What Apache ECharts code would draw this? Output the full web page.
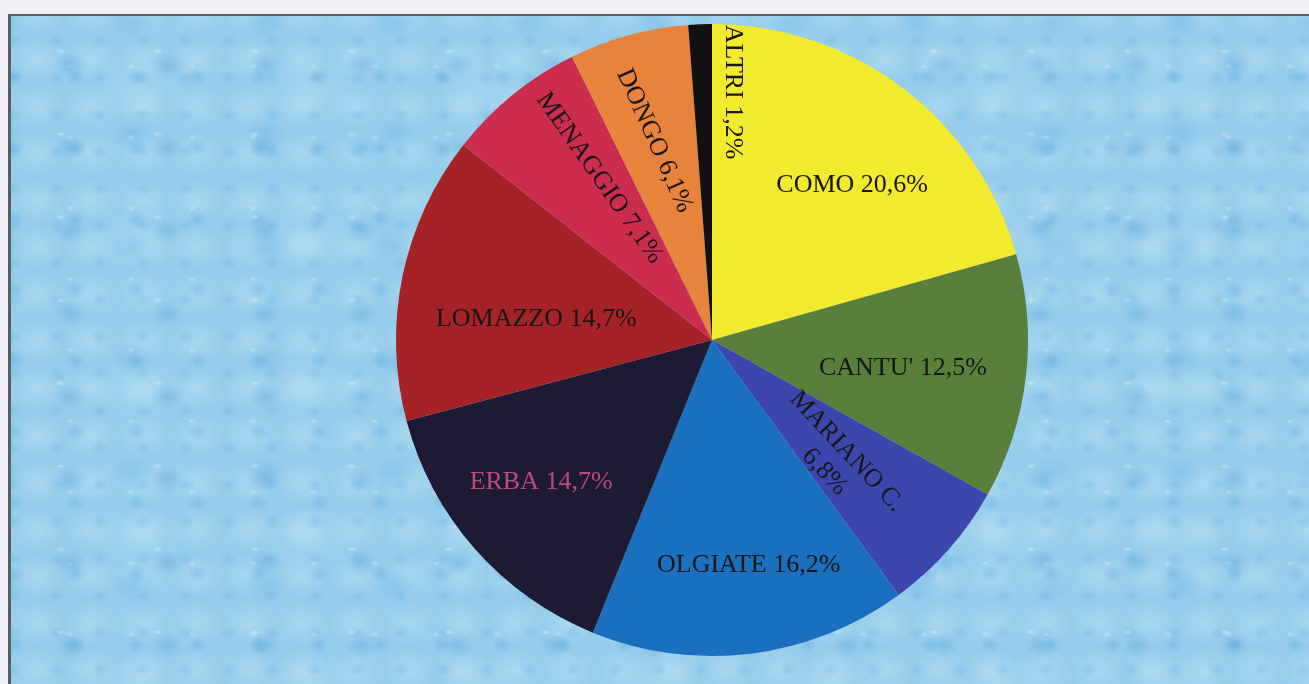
<!DOCTYPE html>
<html>
<head>
<meta charset="utf-8">
<script src="https://cdn.jsdelivr.net/npm/echarts@6/dist/echarts.min.js"></script>
<style>
  html, body {
    margin: 0;
    padding: 0;
    width: 1309px;
    height: 684px;
    overflow: hidden;
    background: #f1eff5;
  }
  .frame {
    position: absolute;
    left: 8px;
    top: 14px;
    right: 0;
    bottom: 0;
    border-top: 2px solid #5d5d60;
    border-left: 3px solid #5d5d60;
    background-color: #96cdeb;
    background-image:
      radial-gradient(ellipse 6px 3px at 40% 34%, rgba(255,255,255,0.35), transparent 90%),
      radial-gradient(ellipse 20px 16px at 50% 50%, rgba(70,155,214,0.32), transparent 80%),
      radial-gradient(ellipse 5px 3px at 36% 30%, rgba(255,255,255,0.3), transparent 90%),
      radial-gradient(ellipse 13px 11px at 45% 45%, rgba(75,158,215,0.3), transparent 80%),
      radial-gradient(ellipse 26px 20px at 40% 60%, rgba(80,165,222,0.25), transparent 85%),
      radial-gradient(ellipse 11px 9px at 60% 40%, rgba(85,165,220,0.25), transparent 80%),
      radial-gradient(ellipse 36px 28px at 50% 50%, rgba(205,235,248,0.35), transparent 80%),
      radial-gradient(ellipse 60px 40px at 50% 50%, rgba(190,228,246,0.3), transparent 80%);
    background-size: 97px 83px, 97px 83px, 61px 71px, 61px 71px, 131px 113px, 43px 37px, 53px 47px, 173px 149px;
    background-position: 11px 7px, 11px 7px, 37px 29px, 37px 29px, 70px 50px, 20px 10px, 0 20px, 40px 0;
  }
  #chart {
    position: absolute;
    left: 0;
    top: 0;
    width: 1309px;
    height: 684px;
  }
</style>
</head>
<body>
<div class="frame"></div>
<div id="chart"></div>
<script>
const names = ["COMO", "CANTU'", "MARIANO C.", "OLGIATE", "ERBA", "LOMAZZO", "MENAGGIO", "DONGO", "ALTRI"];
const values = [20.6, 12.5, 6.8, 16.2, 14.7, 14.7, 7.1, 6.1, 1.2];
const colors = ["#f2ea2c", "#5a7f3a", "#3d46ad", "#1a6fbf", "#1c1b33", "#a52227", "#cc2d4e", "#e8833c", "#111111"];
const labelColors = ["#161616", "#161616", "#161616", "#161616", "#c04a74", "#161616", "#161616", "#161616", "#161616"];
const labelRotate = [0, 0, -47, 0, 0, 0, -55, -66, -90];

// screen-space nudge from the slice midpoint to where each label sits
const labelShift = [
  [43, -26], [31, 9], [3, 15], [17, 65], [-50, 36],
  [-18, 12], [-11, -37], [-15, -44], [27, -87]
];

function formatPct(v) {
  return v.toFixed(1).replace(".", ",") + "%";
}

// labelLayout dx/dy are applied in the label's rotated frame
function localShift(i) {
  const a = -labelRotate[i] * Math.PI / 180;
  const sx = labelShift[i][0];
  const sy = labelShift[i][1];
  return {
    dx: sx * Math.cos(a) + sy * Math.sin(a),
    dy: -sx * Math.sin(a) + sy * Math.cos(a),
  };
}

const chart = echarts.init(document.getElementById("chart"));

chart.setOption({
  animation: false,
  series: [
    {
      type: "pie",
      center: [712, 340],
      radius: [0, 316],
      startAngle: 90,
      clockwise: true,
      avoidLabelOverlap: false,
      silent: true,
      itemStyle: { borderWidth: 0 },
      label: {
        show: true,
        position: "inside",
        fontFamily: "Liberation Serif",
        fontSize: 26,
        lineHeight: 30,
        align: "center",
        formatter: (p) => {
          if (p.name === "MARIANO C.") {
            return p.name + "\n" + formatPct(p.value);
          }
          return p.name + " " + formatPct(p.value);
        },
      },
      labelLine: { show: false },
      labelLayout: (p) => localShift(p.dataIndex),
      data: names.map((n, i) => ({
        name: n,
        value: values[i],
        itemStyle: { color: colors[i] },
        label: { color: labelColors[i], rotate: labelRotate[i] },
      })),
    },
  ],
});
</script>
</body>
</html>
